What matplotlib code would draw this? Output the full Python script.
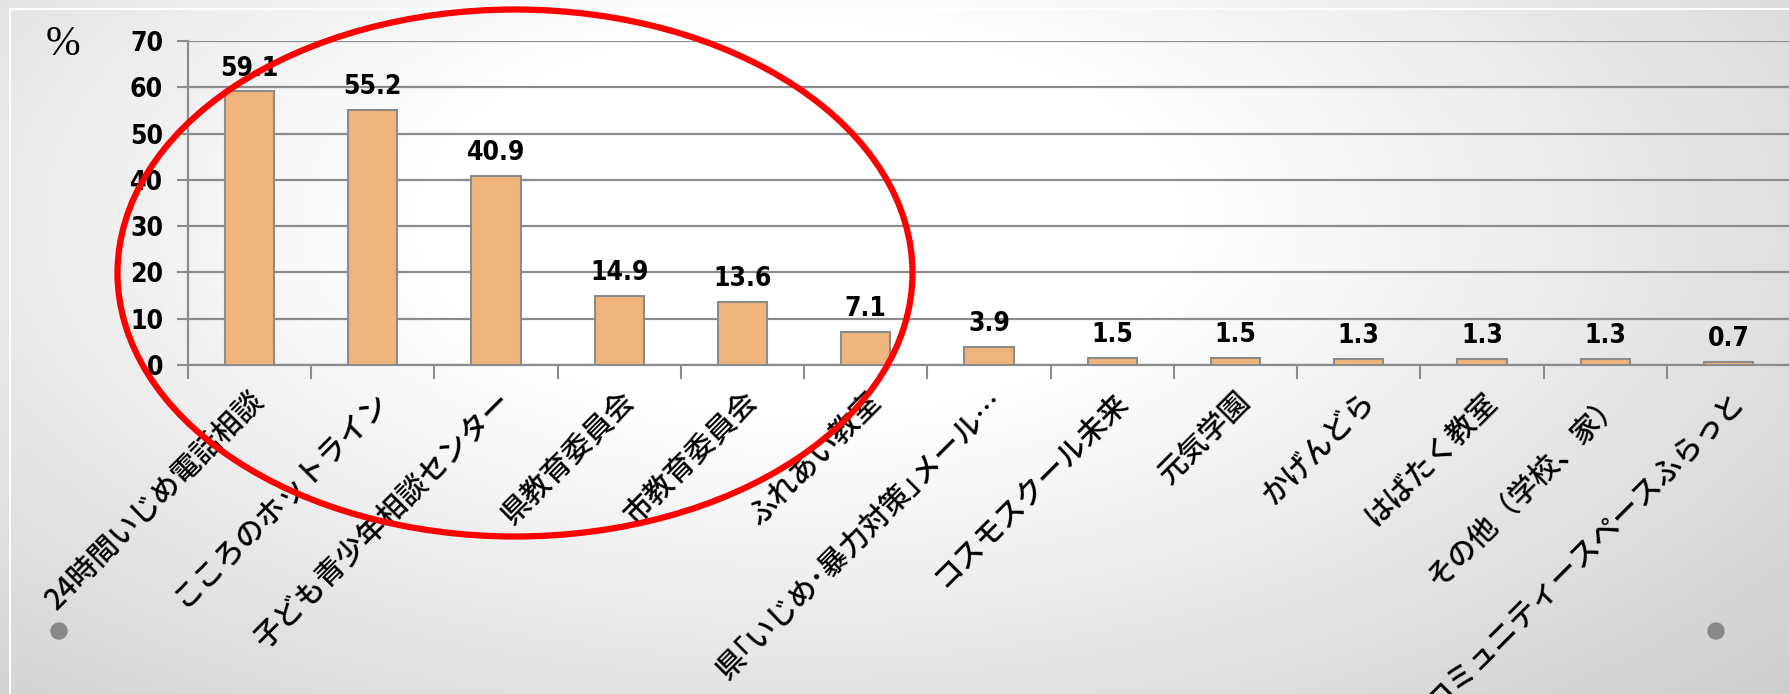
import numpy as np
import matplotlib
matplotlib.use("Agg")
import matplotlib.pyplot as plt
from matplotlib.patches import Ellipse

plt.rcParams['font.family'] = ['Noto Sans CJK JP', 'DejaVu Sans']

categories = ['24時間いじめ電話相談', 'こころのホットライン', '子ども青少年相談センター',
              '県教育委員会', '市教育委員会', 'ふれあい教室', '県｢いじめ･暴力対策｣メール…',
              'コスモスクール未来', '元気学園', 'かげんどら', 'はばたく教室',
              'その他（学校、家）', 'コミュニティースペースふらっと']
values = [59.1, 55.2, 40.9, 14.9, 13.6, 7.1, 3.9, 1.5, 1.5, 1.3, 1.3, 1.3, 0.7]
yticks = [0, 10, 20, 30, 40, 50, 60, 70]

num_font = dict(family=['DejaVu Sans'], fontweight='bold', fontstretch='condensed', fontsize=19)

W, H = 1790, 694
fig = plt.figure(figsize=(W / 100, H / 100), dpi=100)

# background gradient (light gray edges, white centre)
bg = fig.add_axes([0, 0, 1, 1], zorder=-10)
yy, xx = np.mgrid[0:H, 0:W]
d = np.sqrt(((xx - 800) / 1100.0) ** 2 + ((yy - 220) / 560.0) ** 2)
shade = 1.0 - 0.22 * np.clip(d - 0.35, 0, None)
bg.imshow(np.dstack([shade] * 3).clip(0.78, 1), aspect='auto', extent=[0, W, H, 0])
bg.plot([10, W], [9, 9], color='white', lw=1.5)
bg.plot([10, 10], [9, H], color='white', lw=1.5)
bg.set_xlim(0, W)
bg.set_ylim(H, 0)
bg.axis('off')

ax = fig.add_axes([188 / W, 1 - 365 / H, 1 - 188 / W, (365 - 41) / H])
ax.set_facecolor('none')
x = np.arange(len(values))
ax.bar(x, values, width=0.4, color='#EFB47B', edgecolor='#8C8C8C', linewidth=1.5, zorder=3)
for xi, v in zip(x, values):
    ax.annotate(f'{v}', (xi, v), xytext=(0, 7), textcoords='offset points',
                ha='center', va='bottom', **num_font)

ax.set_xlim(-0.5, len(values) - 0.5)
ax.set_ylim(0, 70)
ax.set_yticks(yticks)
ax.set_yticklabels([str(t) for t in yticks], **num_font)
ax.yaxis.grid(True, color='#8C8C8C', lw=1.6, zorder=0)
ax.tick_params(axis='y', length=8, width=1.5, color='#8C8C8C', pad=10)

ax.set_xticks(np.arange(len(values) + 1) - 0.5, minor=False)
ax.set_xticklabels([])
ax.set_xticks(x, minor=True)
ax.set_xticklabels(categories, minor=True, rotation=45, ha='right',
                   rotation_mode='anchor', fontsize=21, fontweight='medium')
ax.tick_params(axis='x', which='major', length=10, width=1.5, color='#8C8C8C', direction='out')
ax.tick_params(axis='x', which='minor', length=0, pad=15)

for s in ['top', 'right']:
    ax.spines[s].set_visible(False)
for s in ['left', 'bottom']:
    ax.spines[s].set_color('#8C8C8C')
    ax.spines[s].set_linewidth(1.6)

fig.text(63 / W, 1 - 45 / H, '%', fontsize=30, ha='center', va='center',
         family=['Liberation Serif', 'DejaVu Serif'])

# red ellipse and decorative dots
fig.patches.append(Ellipse((515 / W, 1 - 273 / H), 795 / W, 527 / H, fill=False,
                           edgecolor='#FF0000', lw=4.5, transform=fig.transFigure, zorder=20))
for cx in [59, 1716]:
    fig.patches.append(Ellipse((cx / W, 1 - 631 / H), 16 / W, 16 / H, color='#888888',
                               transform=fig.transFigure, zorder=20))

fig.savefig('out.png', dpi=100)
